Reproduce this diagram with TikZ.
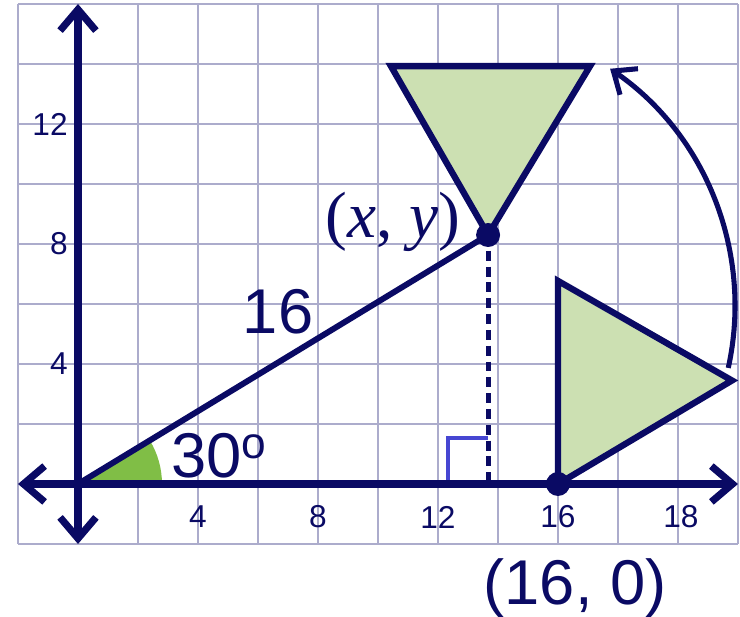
\documentclass[tikz,border=0pt]{standalone}
\usepackage{fontspec}
\setmainfont{Liberation Sans}
\newfontfamily\lblserif{Liberation Serif}
\usetikzlibrary{arrows.meta}
\definecolor{navy}{RGB}{10,10,100}
\definecolor{gridc}{RGB}{172,172,204}
\definecolor{trifill}{RGB}{204,224,178}
\definecolor{anglefill}{RGB}{128,190,70}
\definecolor{markc}{RGB}{70,70,210}

\begin{document}
\begin{tikzpicture}[x=0.5cm,y=0.5cm,
 gridline/.style={gridc,line width=1pt},
 axis/.style={navy,line width=3.4pt,{Straight Barb[length=10pt,width=17pt]}-{Straight Barb[length=10pt,width=17pt]}},
 tri/.style={draw=navy,fill=trifill,line width=3pt,line join=miter},
 seg/.style={navy,line width=2.8pt},
 drop/.style={navy,line width=2.3pt,dash pattern=on 4.7pt off 2.8pt},
 turn/.style={navy,line width=2.4pt,-{Straight Barb[length=9pt,width=15pt]}},
 ticklbl/.style={text=navy,inner sep=0pt,font=\fontsize{15}{18}\selectfont},
 biglbl/.style={text=navy,inner sep=0pt,font=\fontsize{30}{36}\selectfont}]
\useasboundingbox (-2.6,-4.433) rectangle (22.067,16.133);
\draw[gridline] (-2,-2) grid[step=2] (22,16);
% points
\coordinate (O) at (0,0);
\coordinate (P) at (13.67,8.3);
\coordinate (F) at (13.67,0);
\coordinate (Q) at (16,0);
\coordinate (B) at (16,6.77);
\coordinate (C) at (21.8,3.45);
\coordinate (TL) at (10.43,13.93);
\coordinate (TR) at (17.07,13.93);
\coordinate (arcc) at (12.3,5.93);
% angle and right angle
\fill[anglefill] (O) -- (2.8,0) arc[start angle=0,end angle=31.3,radius=2.8] -- cycle;
\draw[markc,line width=1.6pt] (12.33,0) |- (13.67,1.53);
\draw[drop] (P) -- (F);
\draw[seg] (O) -- (P);
% triangles
\draw[tri] (Q) -- (B) -- (C) -- cycle;
\draw[tri] (P) -- (TL) -- (TR) -- cycle;
% axes
\draw[axis] (-2,0) -- (22,0);
\draw[axis] (0,-2) -- (0,16);
\fill[navy] (P) circle[radius=0.4];
\fill[navy] (Q) circle[radius=0.4];
\draw[turn] (arcc) ++(-12.4:9.6) arc[start angle=-12.4,end angle=55.5,radius=9.6];
% labels
\foreach \v in {4,8,12,16} \node[ticklbl] (xl\v) at (\v,-1.1) {\v};
\node[ticklbl] (xl18) at (20.1,-1.1) {18};
\foreach \v in {4,8,12} \node[ticklbl,anchor=east] (yl\v) at (-0.33,\v) {\v};
\node[biglbl,anchor=base west] (anglbl) at (3.1,0.2) {30\textsuperscript{o}};
\node[biglbl,anchor=base] (lenlbl) at (6.67,5.03) {16};
\node[biglbl,font=\lblserif\fontsize{31}{36}\selectfont] (plbl) at (10.5,8.73) {(\textit{x}, \textit{y})};
\node[biglbl,anchor=base] (qlbl) at (16.57,-4.03) {(16, 0)};
\end{tikzpicture}
\end{document}
